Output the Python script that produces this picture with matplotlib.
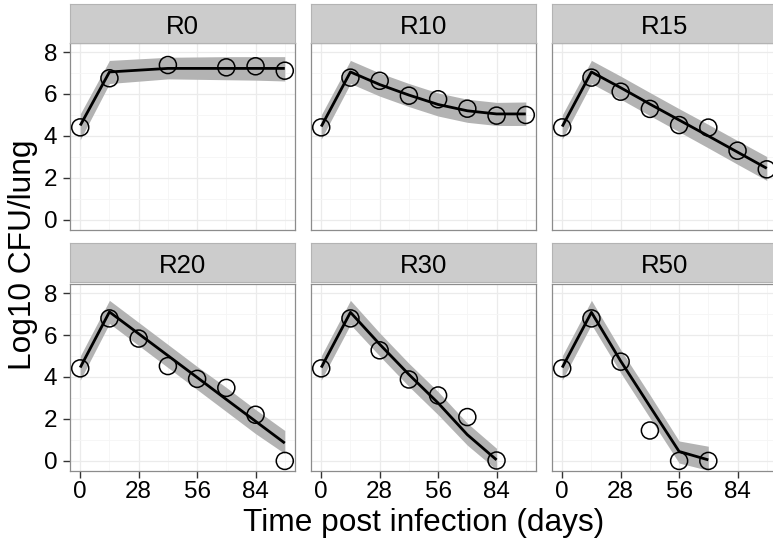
import matplotlib
matplotlib.use("Agg")
import matplotlib.pyplot as plt
import numpy as np

plt.rcParams["font.family"] = ["Liberation Sans", "DejaVu Sans"]

## Data
panels = ["R0", "R10", "R15", "R20", "R30", "R50"]

days = {
    "R0": [0, 14, 42, 70, 84, 98],
    "R10": [0, 14, 28, 42, 56, 70, 84, 98],
    "R15": [0, 14, 28, 42, 56, 70, 84, 98],
    "R20": [0, 14, 28, 42, 56, 70, 84, 98],
    "R30": [0, 14, 28, 42, 56, 70, 84],
    "R50": [0, 14, 28, 42, 56, 70],
}

observed = {
    "R0": [4.41, 6.75, 7.38, 7.27, 7.32, 7.11],
    "R10": [4.41, 6.78, 6.63, 5.92, 5.75, 5.30, 4.97, 5.00],
    "R15": [4.41, 6.78, 6.11, 5.29, 4.52, 4.40, 3.30, 2.41],
    "R20": [4.41, 6.79, 5.83, 4.52, 3.91, 3.48, 2.20, 0.00],
    "R30": [4.41, 6.79, 5.27, 3.88, 3.12, 2.09, 0.02],
    "R50": [4.41, 6.79, 4.73, 1.45, 0.00, 0.00],
}

fitted = {
    "R0": [4.50, 7.05, 7.22, 7.22, 7.22, 7.22],
    "R10": [4.45, 7.05, 6.45, 5.95, 5.50, 5.20, 5.05, 5.05],
    "R15": [4.45, 7.05, 6.30, 5.52, 4.76, 4.00, 3.23, 2.46],
    "R20": [4.45, 7.10, 6.06, 5.02, 3.98, 2.93, 1.89, 0.85],
    "R30": [4.45, 7.08, 5.56, 4.12, 2.76, 1.25, 0.05],
    "R50": [4.45, 7.08, 4.76, 2.60, 0.45, 0.05],
}

upper = {
    "R0": [5.05, 7.60, 7.75, 7.78, 7.78, 7.78],
    "R10": [5.00, 7.60, 7.00, 6.50, 6.05, 5.75, 5.60, 5.62],
    "R15": [5.00, 7.60, 6.85, 6.07, 5.30, 4.55, 3.78, 3.02],
    "R20": [5.00, 7.65, 6.60, 5.55, 4.50, 3.50, 2.45, 1.45],
    "R30": [5.00, 7.65, 6.10, 4.65, 3.30, 1.80, 0.60],
    "R50": [5.00, 7.65, 5.30, 3.15, 0.95, 0.70],
}

lower = {
    "R0": [3.82, 6.50, 6.72, 6.68, 6.66, 6.62],
    "R10": [3.85, 6.50, 5.90, 5.40, 4.95, 4.65, 4.50, 4.50],
    "R15": [3.85, 6.50, 5.75, 4.97, 4.20, 3.43, 2.65, 1.88],
    "R20": [3.85, 6.55, 5.50, 4.45, 3.40, 2.35, 1.30, 0.35],
    "R30": [3.85, 6.50, 5.00, 3.55, 2.20, 0.75, -0.42],
    "R50": [3.85, 6.50, 4.20, 2.05, -0.10, -0.45],
}

x_ticks = [0, 28, 56, 84]
x_minor = [14, 42, 70, 98]
y_ticks = [0, 2, 4, 6, 8]
y_minor = [1, 3, 5, 7]

## Layout in pixels (figure is 773 x 544); right column runs past the edge
W, H = 773, 544
fig = plt.figure(figsize=(W / 100, H / 100), dpi=100)

col_left = [70, 311, 552]
panel_w = 225
row_top = [43, 284]
panel_h = 187
strip_h = 39


def px_axes(left, top, width, height):
    return fig.add_axes([left / W, 1 - (top + height) / H, width / W, height / H])


for i, name in enumerate(panels):
    r, c = divmod(i, 3)
    ax = px_axes(col_left[c], row_top[r], panel_w, panel_h)
    ax.set_facecolor("white")

    ax.fill_between(days[name], lower[name], upper[name], color="#B3B3B3", lw=0, zorder=2)
    ax.plot(days[name], fitted[name], color="black", lw=2.0, zorder=3, solid_capstyle="butt")
    ax.scatter(days[name], observed[name], s=150, facecolors="none",
               edgecolors="black", linewidths=1.1, zorder=4, clip_on=False)

    ax.set_xlim(-4.9, 102.9)
    ax.set_ylim(-0.48, 8.43)
    ax.set_xticks(x_ticks)
    ax.set_xticks(x_minor, minor=True)
    ax.set_yticks(y_ticks)
    ax.set_yticks(y_minor, minor=True)
    ax.grid(which="major", color="#EBEBEB", lw=0.9, zorder=0)
    ax.grid(which="minor", color="#F5F5F5", lw=0.6, zorder=0)
    ax.set_axisbelow(True)

    for s in ax.spines.values():
        s.set_color("#8C8C8C")
        s.set_linewidth(0.9)

    ax.tick_params(which="minor", length=0)
    ax.tick_params(which="major", length=5, width=1.0, color="#333333",
                   labelsize=17.5, pad=2)
    ax.tick_params(axis="y", which="major", pad=4)
    if c != 0:
        ax.tick_params(axis="y", which="major", length=0, labelleft=False)
    if r != 1:
        ax.tick_params(axis="x", which="major", length=0, labelbottom=False)

    ## strip on top of each panel
    top = row_top[r] - strip_h - (0 if r == 0 else 2)
    sax = px_axes(col_left[c], top, panel_w, strip_h)
    sax.set_facecolor("#CCCCCC")
    sax.set_xticks([])
    sax.set_yticks([])
    for s in sax.spines.values():
        s.set_color("#B3B3B3")
        s.set_linewidth(0.8)
    sax.text(0.5, 0.42, name, ha="center", va="center", fontsize=18.5,
             transform=sax.transAxes)

fig.text(424 / W, 1 - 523 / H, "Time post infection (days)", ha="center", va="center",
         fontsize=22.8)
fig.text(23 / W, 1 - 255 / H, "Log10 CFU/lung", ha="center", va="center",
         rotation=90, fontsize=22.8)

fig.savefig("out.png", dpi=100)
